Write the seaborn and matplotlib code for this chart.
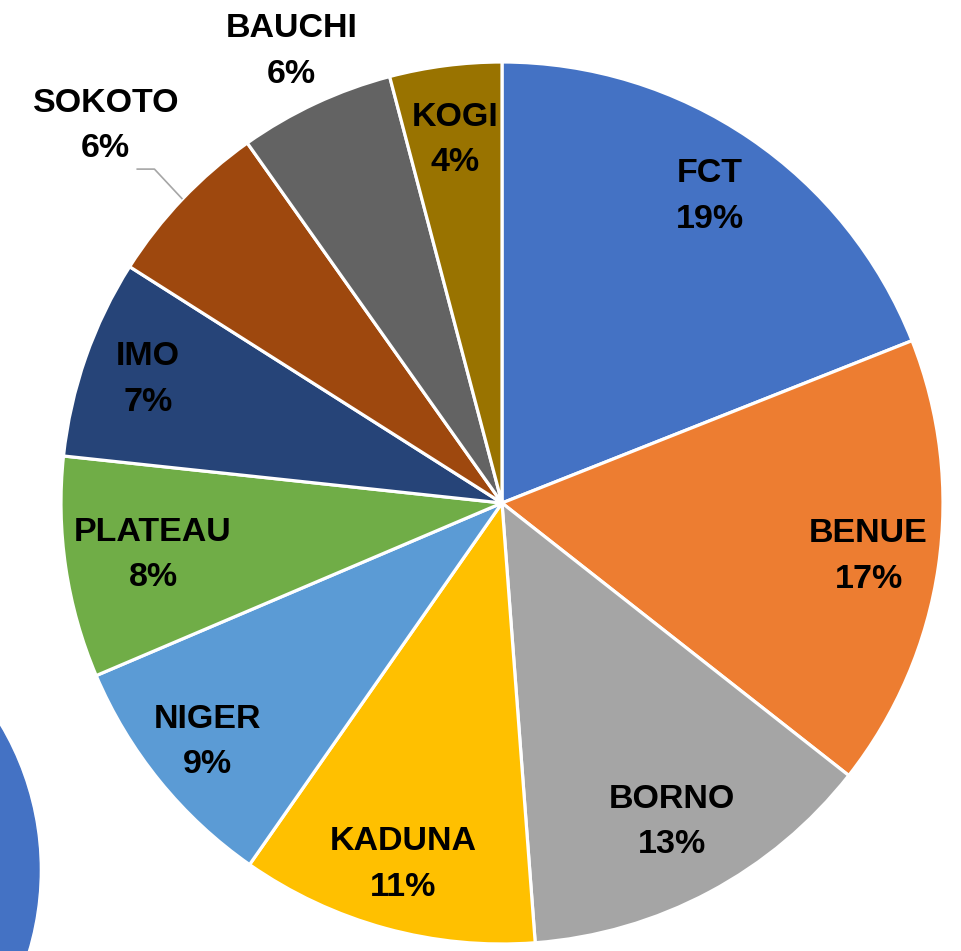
import numpy as np
import matplotlib
matplotlib.use("Agg")
import matplotlib.pyplot as plt
import seaborn as sns
from matplotlib.patches import Circle

# ---- data ----
states = ["FCT", "BENUE", "BORNO", "KADUNA", "NIGER", "PLATEAU", "IMO", "SOKOTO", "BAUCHI", "KOGI"]
shares = [19.0, 16.6, 13.2, 10.9, 8.9, 8.1, 7.3, 6.2, 5.7, 4.1]
colors = ["#4472C4", "#ED7D31", "#A5A5A5", "#FFC000", "#5B9BD5",
          "#70AD47", "#264478", "#9E480E", "#636363", "#997300"]

# ---- layout ----
W, H = 961, 951
cx, cy, R = 502, H - 503, 441
label_r = [0.84, 0.84, 0.82, 0.85, 0.86, 0.80, 0.85, 1.24, 1.13, 0.83]

sns.set_theme(style="white")
plt.rcParams['font.family'] = ['Liberation Sans', 'DejaVu Sans']

fig = plt.figure(figsize=(W / 100, H / 100), dpi=100)
ax = fig.add_axes([0, 0, 1, 1])

# decorative partial circle at bottom-left
ax.add_patch(Circle((-243, H - 870), 282, color="#4472C4", zorder=0))

wedges, _ = ax.pie(shares, colors=sns.color_palette(colors), startangle=90,
                   counterclock=False, center=(cx, cy), radius=R,
                   wedgeprops=dict(edgecolor="white", linewidth=2.3))

total = sum(shares)
cum = 0.0
for name, v, rf in zip(states, shares, label_r):
    mid = (cum + v / 2) / total * 2 * np.pi  # clockwise from top
    cum += v
    sx, sy = np.sin(mid), np.cos(mid)
    tx, ty = cx + rf * R * sx, cy + rf * R * sy
    pct = f"{round(v / total * 100):.0f}%"
    ax.text(tx, ty, f"{name}\n{pct}", ha="center", va="center",
            fontsize=24.5, fontweight="bold", color="black", linespacing=1.6,
            zorder=5)
    if name == "SOKOTO":
        ex, ey = cx + R * sx, cy + R * sy
        ax.plot([ex, ex - 28, ex - 46], [ey, ey + 30, ey + 30],
                color="#A6A6A6", lw=1.2, zorder=4, solid_capstyle="butt")

ax.set_xlim(0, W)
ax.set_ylim(0, H)
ax.set_aspect("auto")
ax.axis("off")

fig.savefig("out.png", dpi=100)
